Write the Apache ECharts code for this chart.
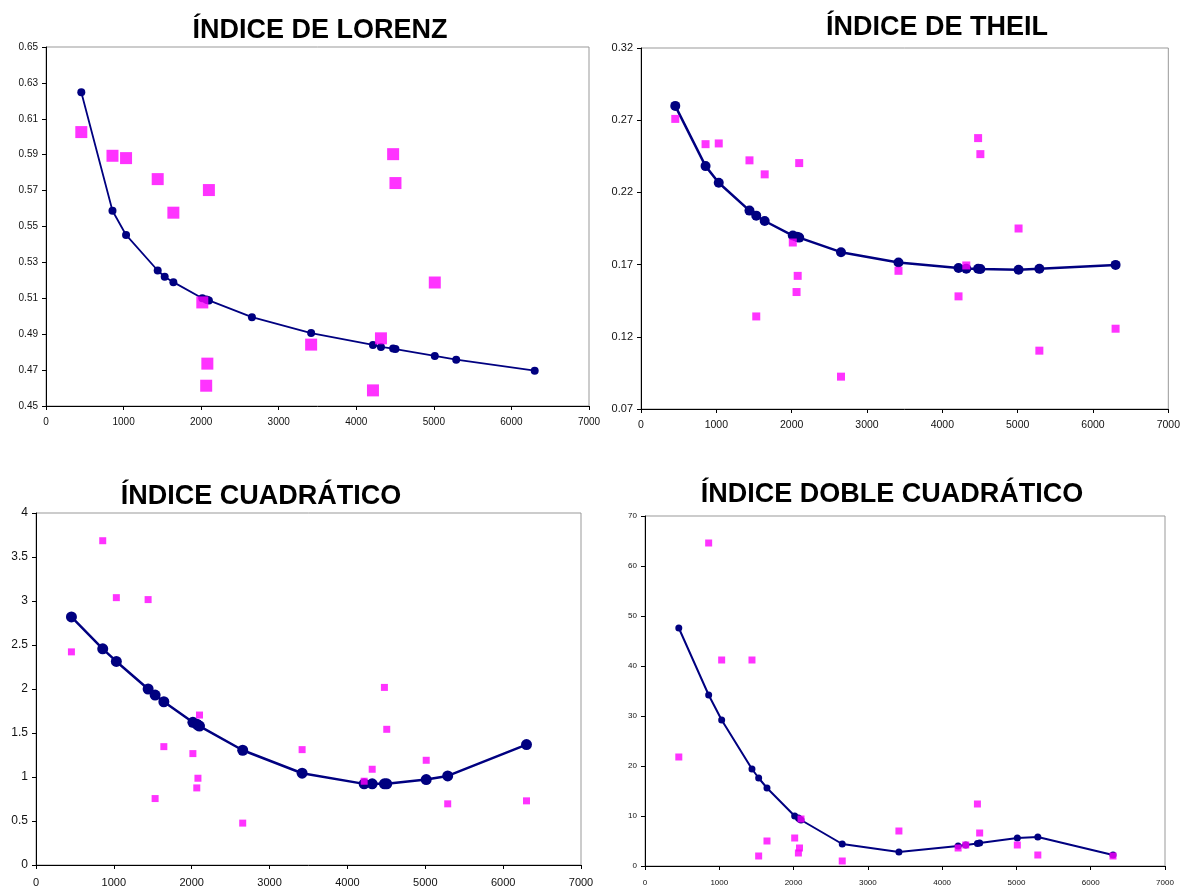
<!DOCTYPE html>
<html>
<head>
<meta charset="utf-8">
<script src="https://cdn.jsdelivr.net/npm/echarts@6/dist/echarts.min.js"></script>
<style>
html,body{margin:0;padding:0;background:#fff;}
#chart{width:1183px;height:889px;}
</style>
</head>
<body>
<div id="chart"></div>
<script>
// Shared x values (income per region)
const xValues = [455, 857, 1032, 1440, 1530, 1642, 2015, 2065, 2080, 2100, 2655, 3418, 4215, 4318, 4475, 4505, 5012, 5288, 6300];

// Lorenz index
const lorenzObserved = [0.6026, 0.5894, 0.5881, 0.5764, null, 0.5577, 0.5077, 0.4613, 0.4736, 0.5703, null, 0.4842, 0.4587, 0.4877, 0.5903, 0.5742, 0.5188, null, null];
const lorenzFitted = [0.6248, 0.5588, 0.5453, 0.5255, 0.5220, 0.5190, 0.5100, 0.5093, 0.5090, 0.5088, 0.4995, 0.4906, 0.4840, 0.4829, 0.4820, 0.4817, 0.4779, 0.4758, 0.4697];

// Theil index
const theilObserved = [0.2709, 0.2534, 0.2539, 0.2422, 0.1341, 0.2325, 0.1853, 0.1510, 0.1622, 0.2403, 0.0924, 0.1657, 0.1480, 0.1694, 0.2576, 0.2465, 0.1950, 0.1104, 0.1256];
const theilFitted = [0.2799, 0.2382, 0.2267, 0.2074, 0.2039, 0.2002, 0.1901, 0.1893, 0.1890, 0.1887, 0.1786, 0.1714, 0.1676, 0.1671, 0.1671, 0.1670, 0.1664, 0.1671, 0.1698];

// Quadratic index
const cuadObserved = [2.422, 3.685, 3.038, 3.016, 0.755, 1.345, 1.266, 0.876, 0.986, 1.704, 0.476, 1.311, 0.952, 1.088, 2.018, 1.542, 1.190, 0.695, 0.729];
const cuadFitted = [2.819, 2.456, 2.313, 2.000, 1.931, 1.855, 1.621, 1.600, 1.590, 1.579, 1.304, 1.043, 0.922, 0.922, 0.922, 0.922, 0.971, 1.012, 1.368];

// Double quadratic index
const dobleObserved = [21.8, 64.6, 41.2, 41.2, 2.0, 5.0, 5.6, 2.6, 3.6, 9.4, 1.0, 7.0, 3.6, 4.2, 12.4, 6.6, 4.2, 2.2, 2.0];
const dobleFitted = [47.6, 34.2, 29.2, 19.4, 17.6, 15.6, 10.0, 9.6, 9.4, 9.2, 4.4, 2.8, 4.0, 4.2, 4.5, 4.6, 5.6, 5.8, 2.2];

// Titles and axes
const titles = ['ÍNDICE DE LORENZ', 'ÍNDICE DE THEIL', 'ÍNDICE CUADRÁTICO', 'ÍNDICE DOBLE CUADRÁTICO'];
const xTicks = {min: 0, max: 7000, interval: 1000};
const yTicks = [
  {min: 0.45, max: 0.65, interval: 0.02, dec: 2},
  {min: 0.07, max: 0.32, interval: 0.05, dec: 2},
  {min: 0, max: 4, interval: 0.5, dec: -1},
  {min: 0, max: 70, interval: 10, dec: 0}
];

const pairs = (ys) => xValues.map((x, i) => [x, ys[i]]).filter(p => p[1] !== null);

const NAVY = '#000080';
const PINK = '#ff00ff';
const FONT = 'Liberation Sans, Arial, sans-serif';

const grids = [
  {left: 46, top: 47, width: 543, height: 359},
  {left: 641, top: 48, width: 529, height: 361},
  {left: 36, top: 513, width: 545, height: 352},
  {left: 645, top: 516, width: 520, height: 350}
];
const labelSizes = [[10, 10], [10.5, 11], [11, 12], [8, 8]];
const xMargins = [11, 11, 12, 13];
const markers = [
  {circle: 8, rect: 12, lw: 1.8},
  {circle: 10, rect: 8, lw: 2.5},
  {circle: 11, rect: 7, lw: 2.5},
  {circle: 7, rect: 7, lw: 2}
];
const titlePos = [[320, 31], [937, 28], [261, 497], [892, 495]];

const fmt = (dec) => (v) => {
  if (dec < 0) return String(Math.round(v * 10) / 10);
  return v.toFixed(dec);
};

const option = {
  animation: false,
  backgroundColor: '#fff',
  grid: grids.map(g => Object.assign({show: true, borderColor: '#999', borderWidth: 1, backgroundColor: '#fff'}, g)),
  xAxis: grids.map((g, i) => ({
    type: 'value', gridIndex: i, min: xTicks.min, max: xTicks.max, interval: xTicks.interval,
    axisLine: {show: true, onZero: false, lineStyle: {color: '#000', width: 1}},
    axisTick: {show: true, length: 4, lineStyle: {color: '#000'}},
    axisLabel: {color: '#111', fontSize: labelSizes[i][0], fontFamily: FONT, margin: xMargins[i], formatter: (v) => String(v)},
    splitLine: {show: false}
  })),
  yAxis: grids.map((g, i) => ({
    type: 'value', gridIndex: i, min: yTicks[i].min, max: yTicks[i].max, interval: yTicks[i].interval,
    axisLine: {show: true, onZero: false, lineStyle: {color: '#000', width: 1}},
    axisTick: {show: true, length: 4, lineStyle: {color: '#000'}},
    axisLabel: {color: '#111', fontSize: labelSizes[i][1], fontFamily: FONT, margin: 8, formatter: fmt(yTicks[i].dec)},
    splitLine: {show: false}
  })),
  graphic: titles.map((t, i) => ({
    type: 'text', x: titlePos[i][0], y: titlePos[i][1],
    style: {text: t, fill: '#000', font: 'bold 27px ' + FONT, textAlign: 'center', textVerticalAlign: 'middle'}
  })),
  series: []
};

const fittedSets = [lorenzFitted, theilFitted, cuadFitted, dobleFitted];
const observedSets = [lorenzObserved, theilObserved, cuadObserved, dobleObserved];
for (let i = 0; i < 4; i++) {
  option.series.push({
    type: 'line', xAxisIndex: i, yAxisIndex: i, data: pairs(fittedSets[i]),
    symbol: 'circle', symbolSize: markers[i].circle, showSymbol: true,
    itemStyle: {color: NAVY}, lineStyle: {color: NAVY, width: markers[i].lw}, z: 2
  });
  option.series.push({
    type: 'scatter', xAxisIndex: i, yAxisIndex: i, data: pairs(observedSets[i]),
    symbol: 'rect', symbolSize: markers[i].rect, itemStyle: {color: PINK}, z: 3
  });
}

const chart = echarts.init(document.getElementById('chart'), null, {renderer: 'canvas'});
chart.setOption(option);
</script>
</body>
</html>
